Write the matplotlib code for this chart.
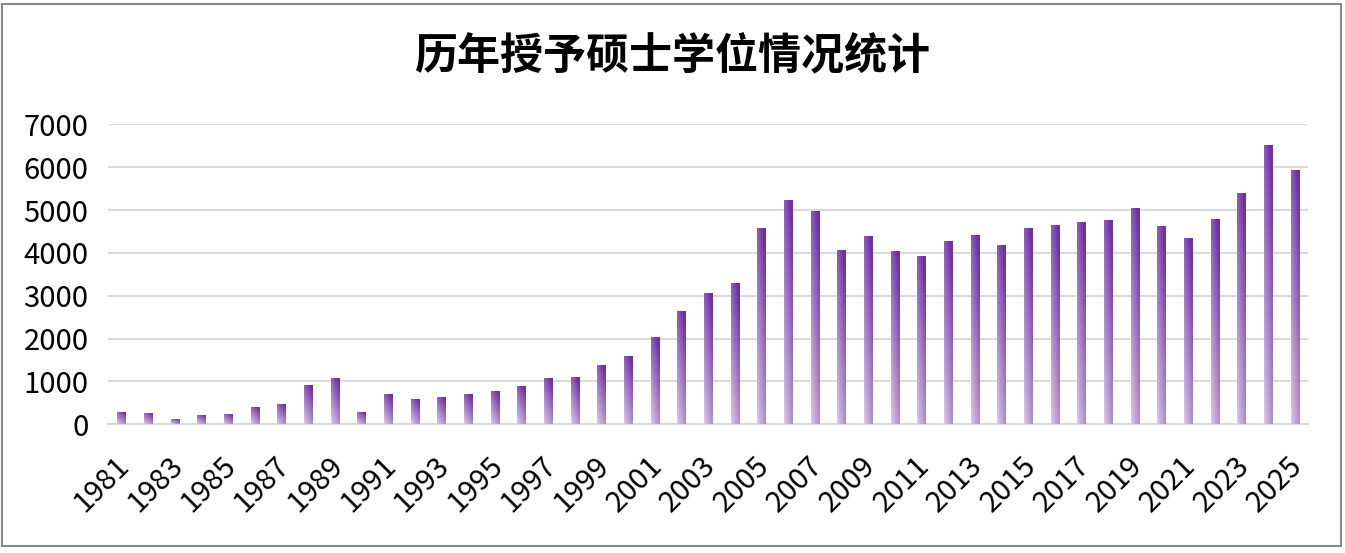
import matplotlib
matplotlib.use('Agg')
import matplotlib.pyplot as plt
import matplotlib.transforms as mtransforms
import numpy as np
from matplotlib.patches import Rectangle

plt.rcParams['font.family'] = ['Noto Sans CJK SC', 'DejaVu Sans']

# 数据
years = [str(y) for y in range(1981, 2026)]
degrees = [290, 265, 125, 218, 241, 405, 475, 919, 1083, 288,
           709, 592, 639, 709, 779, 896, 1083, 1106, 1386, 1597,
           2040, 2648, 3069, 3302, 4587, 5241, 4984, 4073, 4400, 4050,
           3933, 4283, 4424, 4190, 4587, 4657, 4727, 4774, 5054, 4634,
           4354, 4797, 5405, 6526, 5942]
title = '历年授予硕士学位情况统计'
yticks = [0, 1000, 2000, 3000, 4000, 5000, 6000, 7000]

W, H = 1345, 553
fig = plt.figure(figsize=(W / 100, H / 100), dpi=100, facecolor='white')
ax = fig.add_axes([108 / W, 1 - 424.3 / H, 1200 / W, 300 / H])

x = np.arange(len(years))
bars = ax.bar(x, degrees, width=0.31, color='none', zorder=3)

# 渐变色：左下浅，右上深
dark = np.array([112, 48, 160]) / 255.0
light = np.array([236, 230, 246]) / 255.0
yy, xx = np.mgrid[0:1:100j, 0:1:20j]
t = np.clip(0.15 + 0.6 * yy + 0.35 * xx, 0, 1)
grad = light + (dark - light) * t[..., None]

for b in bars:
    bx, by = b.get_x(), b.get_y()
    bw, bh = b.get_width(), b.get_height()
    im = ax.imshow(grad, extent=(bx, bx + bw, by, by + bh), origin='lower',
                   aspect='auto', interpolation='bilinear', zorder=3)
    im.set_clip_path(b)

ax.set_xlim(-0.5, len(years) - 0.5)
ax.set_ylim(0, 7000)
ax.set_yticks(yticks)
ax.set_yticklabels([str(v) for v in yticks], fontsize=21)
ax.set_xticks(x[::2])
ax.set_xticklabels(years[::2], fontsize=21, rotation=45, ha='right',
                   va='top', rotation_mode='anchor')
ax.tick_params(axis='both', length=0)
ax.tick_params(axis='y', pad=14)
ax.tick_params(axis='x', pad=19)

# x 轴标签整体左移一点
shift = mtransforms.ScaledTranslation(-7 / 100, 0, fig.dpi_scale_trans)
for lab in ax.get_xticklabels():
    lab.set_transform(lab.get_transform() + shift)

ax.grid(axis='y', color='#d9d9d9', linewidth=1.5, zorder=0)
ax.set_axisbelow(True)
for s in ['top', 'right', 'left']:
    ax.spines[s].set_visible(False)
ax.spines['bottom'].set_color('#d9d9d9')
ax.spines['bottom'].set_linewidth(1.5)

fig.text(0.5, 1 - 55 / H, title, ha='center', va='center',
         fontsize=31, fontweight='bold')

# 外框
fig.patches.append(Rectangle((2 / W, 1 - 546 / H), 1339 / W, 542 / H,
                             transform=fig.transFigure, fill=False,
                             edgecolor='#888888', linewidth=1.5))

fig.savefig('out.png', dpi=100, facecolor='white')
